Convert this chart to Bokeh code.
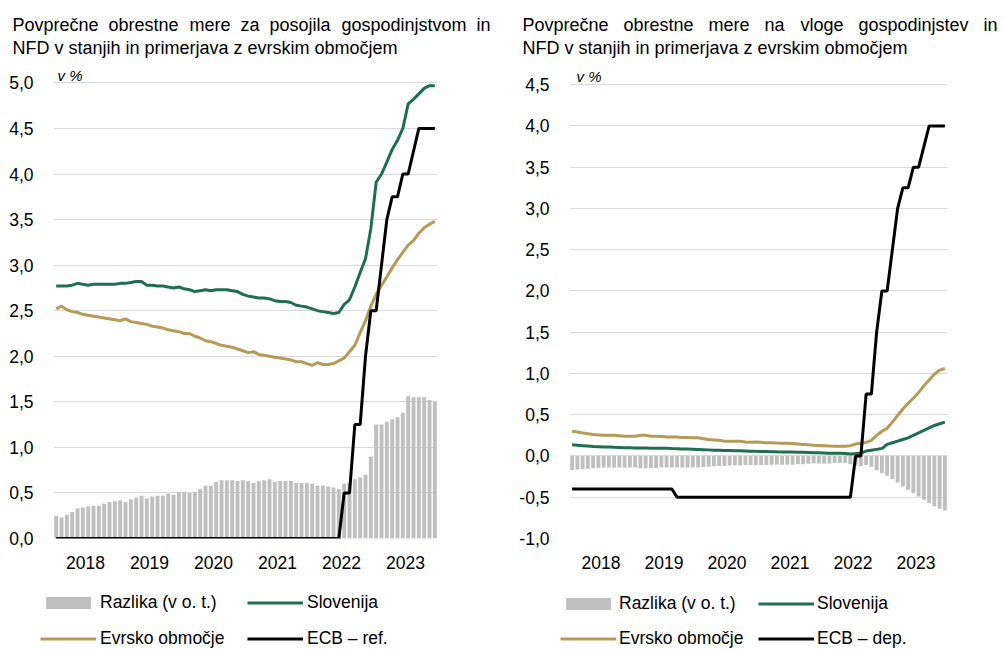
from bokeh.plotting import figure
from bokeh.models import (ColumnDataSource, FixedTicker, Label, Legend, LegendItem,
                          Range1d, CustomJSTickFormatter)
from bokeh.layouts import row, column
from bokeh.embed import file_html
from bokeh.resources import INLINE

# ---------------- data ----------------
years = ["2018", "2019", "2020", "2021", "2022", "2023"]
months = list(range(72))  # Jan 2018 .. Dec 2023

loan_slo = [2.77, 2.77, 2.77, 2.78, 2.80, 2.79, 2.78, 2.79, 2.79, 2.79, 2.79, 2.79,
            2.80, 2.80, 2.81, 2.82, 2.82, 2.78, 2.78, 2.77, 2.77, 2.76, 2.75, 2.76,
            2.74, 2.73, 2.71, 2.72, 2.73, 2.72, 2.73, 2.73, 2.73, 2.72, 2.71, 2.68,
            2.66, 2.65, 2.64, 2.64, 2.63, 2.61, 2.60, 2.60, 2.59, 2.56, 2.55, 2.54,
            2.52, 2.50, 2.49, 2.48, 2.47, 2.48, 2.57, 2.62, 2.76, 2.92, 3.07, 3.40,
            3.91, 4.00, 4.13, 4.27, 4.37, 4.50, 4.77, 4.82, 4.88, 4.94, 4.97, 4.97]
loan_ea = [2.52, 2.55, 2.51, 2.49, 2.48, 2.46, 2.45, 2.44, 2.43, 2.42, 2.41, 2.40,
           2.39, 2.41, 2.38, 2.37, 2.36, 2.35, 2.33, 2.32, 2.31, 2.29, 2.28, 2.27,
           2.25, 2.25, 2.22, 2.20, 2.17, 2.16, 2.14, 2.12, 2.11, 2.10, 2.08, 2.06,
           2.04, 2.05, 2.02, 2.01, 2.00, 1.99, 1.98, 1.97, 1.96, 1.94, 1.94, 1.92,
           1.90, 1.93, 1.91, 1.91, 1.92, 1.95, 1.98, 2.05, 2.12, 2.26, 2.39, 2.55,
           2.68, 2.78, 2.87, 2.97, 3.06, 3.14, 3.22, 3.27, 3.35, 3.41, 3.45, 3.48]
loan_diff = [0.25, 0.23, 0.26, 0.29, 0.33, 0.34, 0.35, 0.36, 0.36, 0.38, 0.40, 0.41,
             0.42, 0.40, 0.43, 0.45, 0.47, 0.44, 0.46, 0.47, 0.47, 0.49, 0.48, 0.51,
             0.51, 0.50, 0.51, 0.54, 0.58, 0.58, 0.62, 0.64, 0.64, 0.64, 0.63, 0.64,
             0.63, 0.61, 0.63, 0.64, 0.65, 0.62, 0.63, 0.63, 0.63, 0.61, 0.61, 0.61,
             0.60, 0.58, 0.58, 0.57, 0.56, 0.54, 0.60, 0.61, 0.65, 0.67, 0.70, 0.90,
             1.25, 1.25, 1.28, 1.31, 1.33, 1.38, 1.56, 1.55, 1.55, 1.55, 1.52, 1.50]
ecb_ref = [0.0] * 54 + [0.5, 0.5, 1.25, 1.25, 2.0, 2.5, 2.5, 3.0, 3.5, 3.75, 3.75,
                        4.0, 4.0, 4.25, 4.5, 4.5, 4.5, 4.5]

dep_slo = [0.135, 0.130, 0.125, 0.120, 0.115, 0.113, 0.110, 0.108, 0.105, 0.103, 0.100, 0.100,
           0.098, 0.097, 0.096, 0.095, 0.094, 0.093, 0.093, 0.090, 0.088, 0.086, 0.084, 0.082,
           0.080, 0.077, 0.074, 0.070, 0.068, 0.066, 0.065, 0.063, 0.062, 0.060, 0.058, 0.056,
           0.055, 0.054, 0.052, 0.050, 0.049, 0.048, 0.047, 0.046, 0.044, 0.042, 0.040, 0.038,
           0.036, 0.034, 0.033, 0.032, 0.030, 0.025, 0.030, 0.036, 0.060, 0.070, 0.080, 0.090,
           0.140, 0.160, 0.180, 0.200, 0.220, 0.250, 0.280, 0.310, 0.340, 0.370, 0.390, 0.410]
dep_ea = [0.300, 0.290, 0.280, 0.270, 0.260, 0.255, 0.250, 0.250, 0.250, 0.245, 0.240, 0.240,
          0.240, 0.250, 0.250, 0.240, 0.240, 0.235, 0.230, 0.230, 0.230, 0.225, 0.225, 0.220,
          0.220, 0.210, 0.200, 0.195, 0.190, 0.180, 0.180, 0.180, 0.178, 0.170, 0.166, 0.170,
          0.165, 0.160, 0.160, 0.157, 0.155, 0.153, 0.150, 0.145, 0.140, 0.135, 0.130, 0.128,
          0.125, 0.120, 0.117, 0.117, 0.117, 0.125, 0.145, 0.155, 0.165, 0.190, 0.250, 0.300,
          0.335, 0.410, 0.490, 0.570, 0.640, 0.700, 0.770, 0.850, 0.920, 0.990, 1.040, 1.060]
dep_diff = [-0.170, -0.165, -0.160, -0.155, -0.150, -0.145, -0.140, -0.140, -0.140, -0.140, -0.140, -0.140,
            -0.140, -0.150, -0.150, -0.145, -0.145, -0.140, -0.140, -0.140, -0.140, -0.140, -0.140, -0.140,
            -0.140, -0.135, -0.130, -0.125, -0.120, -0.120, -0.115, -0.115, -0.115, -0.110, -0.110, -0.110,
            -0.110, -0.110, -0.105, -0.105, -0.105, -0.105, -0.105, -0.100, -0.100, -0.095, -0.090, -0.090,
            -0.090, -0.090, -0.085, -0.085, -0.085, -0.100, -0.115, -0.120, -0.110, -0.130, -0.170, -0.210,
            -0.240, -0.280, -0.320, -0.370, -0.410, -0.450, -0.490, -0.530, -0.570, -0.610, -0.640, -0.660]
ecb_dep = [-0.4] * 20 + [-0.5] * 34 + [0.0, 0.0, 0.75, 0.75, 1.5, 2.0, 2.0, 2.5, 3.0, 3.25,
                                       3.25, 3.5, 3.5, 3.75, 4.0, 4.0, 4.0, 4.0]

loan_yticks = [0.0, 0.5, 1.0, 1.5, 2.0, 2.5, 3.0, 3.5, 4.0, 4.5, 5.0]
dep_yticks = [-1.0, -0.5, 0.0, 0.5, 1.0, 1.5, 2.0, 2.5, 3.0, 3.5, 4.0, 4.5]

loan_title1 = ["Povprečne", "obrestne", "mere", "za", "posojila", "gospodinjstvom", "in"]
dep_title1 = ["Povprečne", "obrestne", "mere", "na", "vloge", "gospodinjstev", "in"]
title2 = "NFD v stanjih in primerjava z evrskim območjem"

# ---------------- styles ----------------
GREEN = "#1e6e50"
GOLD = "#b89a58"
GREY = "#bfbfbf"
GRID = "#d9d9d9"
FONT = "Liberation Sans"

TITLE_H = 66
CHART_H = 514
LEG_H = 69


def add_series(p, src):
    r_bar = p.vbar(x="m", top="diff", bottom=0, width=0.74, source=src,
                   fill_color=GREY, line_color=None)
    r_ea = p.line("m", "ea", source=src, line_color=GOLD, line_width=3)
    r_slo = p.line("m", "slo", source=src, line_color=GREEN, line_width=3)
    r_ecb = p.line("m", "ecb", source=src, line_color="black", line_width=3)
    return r_bar, r_ea, r_slo, r_ecb


def bare(width, height, xr=(0, 1), yr=(0, 1)):
    p = figure(width=width, height=height, output_backend="svg", toolbar_location=None,
               x_range=Range1d(*xr), y_range=Range1d(*yr), frame_align=False,
               x_axis_location=None, y_axis_location=None, min_border=0)
    p.outline_line_color = None
    p.grid.visible = False
    p.background_fill_color = "white"
    p.border_fill_color = "white"
    return p


def make_panel(width, bl, br, y0, y1, yticks, slo, ea, diff, ecb, ecb_label,
               words1, word_x, title_x, vx, vy, leg_x, leg_y, glyph_w,
               standoff, label_w, spacing):
    src = ColumnDataSource(dict(m=months, slo=slo, ea=ea, diff=diff, ecb=ecb))

    # ---- title strip (first line justified word by word) ----
    t = bare(width, TITLE_H)
    for w, x in zip(words1, word_x):
        t.add_layout(Label(x=x, y=TITLE_H - 24, x_units="screen", y_units="screen",
                           text=w, text_font=FONT, text_font_size="18px",
                           text_color="black", text_baseline="alphabetic",
                           text_align="left"))
    t.add_layout(Label(x=title_x, y=TITLE_H - 47, x_units="screen", y_units="screen",
                       text=title2, text_font=FONT, text_font_size="18px",
                       text_color="black", text_baseline="alphabetic", text_align="left"))

    # ---- chart ----
    p = figure(width=width, height=CHART_H, output_backend="svg", toolbar_location=None,
               x_range=Range1d(-0.5, 71.5), y_range=Range1d(y0, y1), frame_align=False,
               min_border_left=bl, min_border_right=br, min_border_top=0,
               min_border_bottom=42)
    p.outline_line_color = None
    p.background_fill_color = "white"
    p.border_fill_color = "white"
    add_series(p, src)

    p.xaxis.ticker = FixedTicker(ticks=[12 * i + 5.5 for i in range(len(years))])
    p.xaxis.formatter = CustomJSTickFormatter(args=dict(years=years),
                                              code="return years[Math.round((tick - 5.5) / 12)];")
    p.yaxis.ticker = FixedTicker(ticks=yticks)
    p.yaxis.formatter = CustomJSTickFormatter(code="return tick.toFixed(1).replace('.', ',');")
    for ax in (p.xaxis, p.yaxis):
        ax.axis_line_color = None
        ax.major_tick_line_color = None
        ax.minor_tick_line_color = None
        ax.major_tick_out = 0
        ax.major_tick_in = 0
        ax.major_label_text_font = FONT
        ax.major_label_text_font_size = "17.5px"
        ax.major_label_text_color = "black"
    p.xaxis.major_label_standoff = 17
    p.yaxis.major_label_standoff = 20
    p.xgrid.grid_line_color = None
    p.ygrid.ticker = FixedTicker(ticks=yticks)
    p.ygrid.grid_line_color = GRID
    p.ygrid.grid_line_width = 1

    p.add_layout(Label(x=vx, y=vy, x_units="screen", y_units="screen", text="v %",
                       text_font=FONT, text_font_size="15px", text_font_style="italic",
                       text_color="black", text_baseline="alphabetic", text_align="left"))

    # ---- legend strip (series kept out of view, only the legend shows) ----
    lg = bare(width, LEG_H, xr=(-0.5, 71.5), yr=(50, 51))
    lr_bar, lr_ea, lr_slo, lr_ecb = add_series(lg, src)
    legend = Legend(items=[LegendItem(label="Razlika (v o. t.)", renderers=[lr_bar]),
                           LegendItem(label="Slovenija", renderers=[lr_slo]),
                           LegendItem(label="Evrsko območje", renderers=[lr_ea]),
                           LegendItem(label=ecb_label, renderers=[lr_ecb])],
                    orientation="horizontal", ncols=2,
                    location=(leg_x, leg_y),
                    glyph_width=glyph_w, glyph_height=15, label_height=20,
                    label_width=label_w, label_standoff=standoff, spacing=spacing,
                    padding=0, margin=0, border_line_color=None,
                    background_fill_alpha=0, label_text_font=FONT,
                    label_text_font_size="17.5px", label_text_color="black")
    lg.add_layout(legend, "center")

    return column(t, p, lg, spacing=0)


left = make_panel(508, 53, 71, 0.0, 5.18, loan_yticks,
                  loan_slo, loan_ea, loan_diff, ecb_ref, "ECB – ref.",
                  loan_title1, [12, 108, 189, 240, 269, 341, 476],
                  12, 4, 463, 40, 0, 56, 4, 132, 15)
right = make_panel(496, 61, 57, -1.0, 4.72, dep_yticks,
                   dep_slo, dep_ea, dep_diff, ecb_dep, "ECB – dep.",
                   dep_title1, [14, 115, 200, 256, 292, 350, 475],
                   14, 7, 462, 52, 0, 56, 3, 125, 14)

layout = row(left, right, spacing=0)
open("out.html", "w").write(file_html(layout, INLINE))
